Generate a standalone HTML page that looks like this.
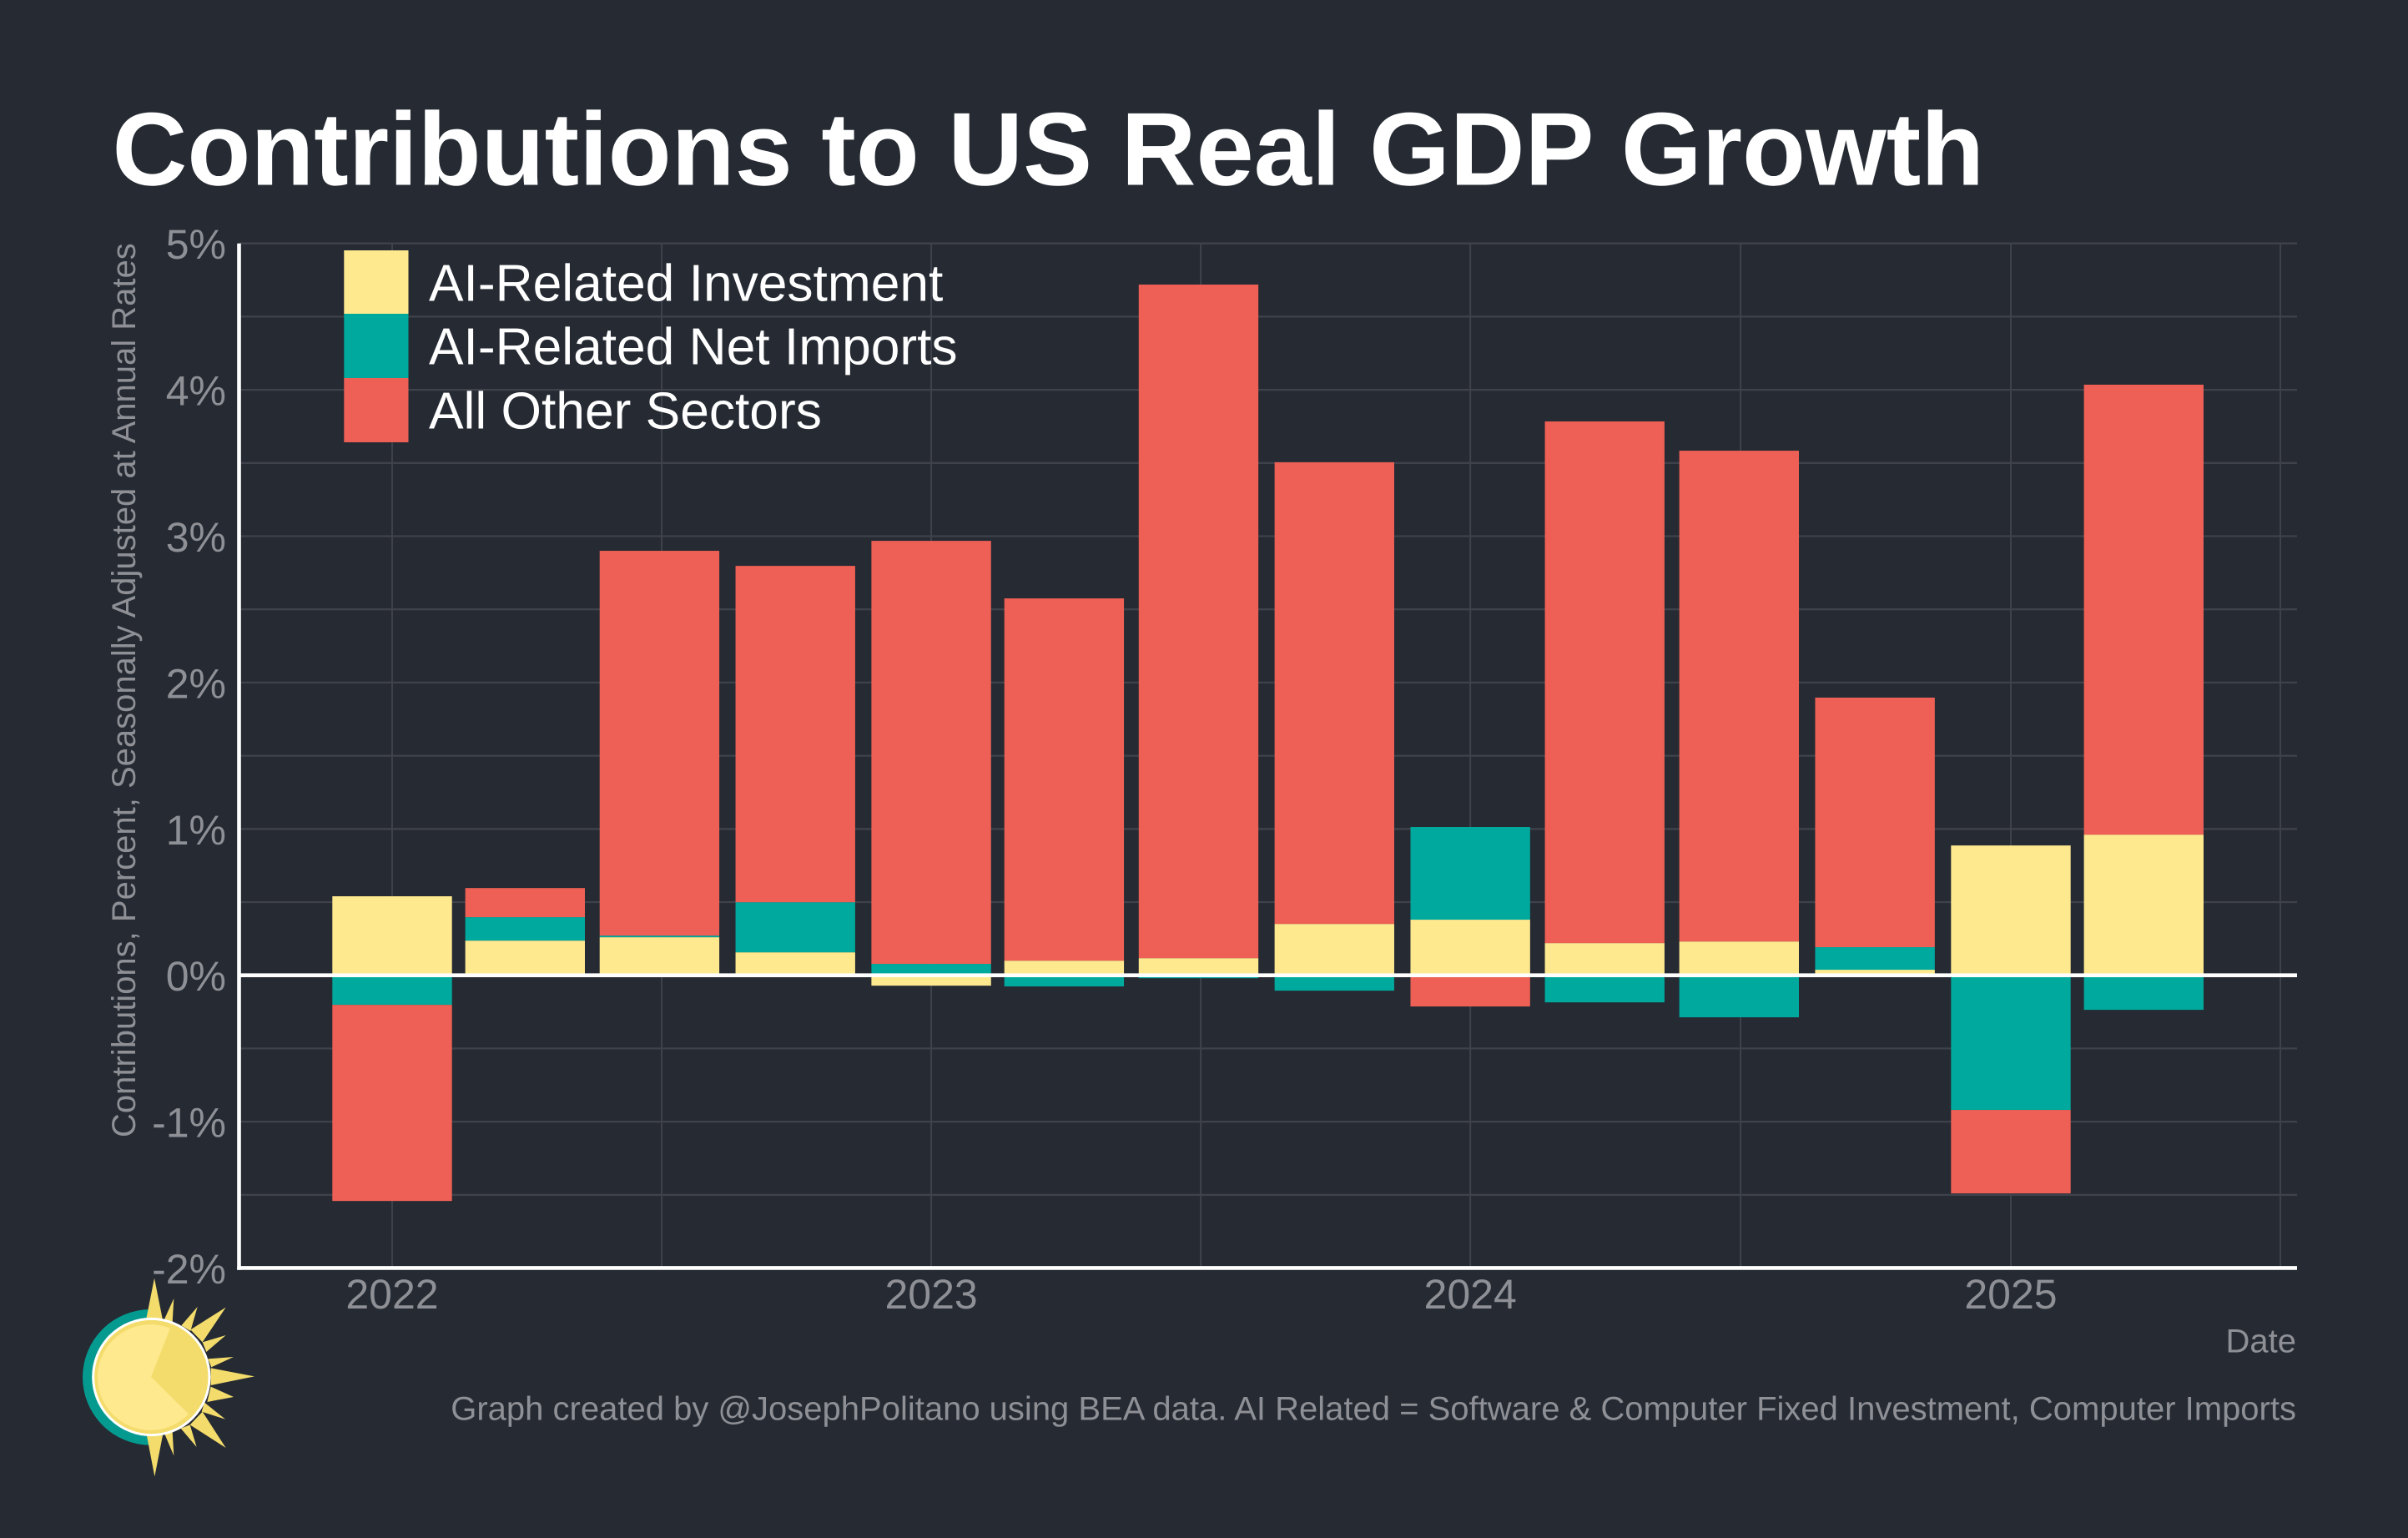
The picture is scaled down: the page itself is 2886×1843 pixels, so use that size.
<!DOCTYPE html>
<html lang="en">
<head>
<meta charset="utf-8">
<title>Contributions to US Real GDP Growth</title>
<style>
html,body{margin:0;padding:0;background:#252a33;width:2886px;height:1843px;overflow:hidden}
svg{display:block}
text{font-family:"Liberation Sans",Arial,sans-serif;text-rendering:geometricPrecision}
</style>
</head>
<body>
<svg id="chart" xmlns="http://www.w3.org/2000/svg" width="2886" height="1843" viewBox="0 0 2886 1843">
  <rect x="0" y="0" width="2886" height="1843" fill="#252a33"/>
  <text x="134.5" y="221.7" font-size="124.4" font-weight="700" fill="#ffffff">Contributions to US Real GDP Growth</text>
  <g id="grid"></g>
  <g id="bars"></g>
  <g id="axes"></g>
  <g id="tick-labels"></g>
  <text transform="translate(162 1363) rotate(-90)" font-size="40" fill="#8e9096">Contributions, Percent, Seasonally Adjusted at Annual Rates</text>
  <text x="2752" y="1620.7" font-size="40" text-anchor="end" fill="#8e9096">Date</text>
  <text x="2752" y="1701.7" font-size="40" text-anchor="end" fill="#8e9096">Graph created by @JosephPolitano using BEA data. AI Related = Software &amp; Computer Fixed Investment, Computer Imports</text>

  <g>
    <rect x="412.3" y="300" width="77.2" height="76" fill="#ffe98f"/>
    <rect x="412.3" y="376" width="77.2" height="77" fill="#00a99d"/>
    <rect x="412.3" y="453" width="77.2" height="77" fill="#ee6055"/>
    <text x="514" y="360.7" font-size="62.3" fill="#ffffff">AI-Related Investment</text>
    <text x="514" y="436.7" font-size="62.3" fill="#ffffff">AI-Related Net Imports</text>
    <text x="514" y="513.3" font-size="62.3" fill="#ffffff">All Other Sectors</text>
  </g>

  <g transform="translate(60 1480) scale(0.33333)">
    <path d="M361 267 A244 244 0 0 0 361 755 Z" fill="#059a8f"/>
    <g fill="#f3dc6b">
      <polygon points="345,305 375,155 405,305"/>
      <polygon points="410,305 445,228 440,315"/>
      <polygon points="472,325 530,258 505,345"/>
      <polygon points="505,340 632,260 548,385"/>
      <polygon points="548,385 632,360 562,420"/>
      <polygon points="568,445 660,438 580,475"/>
      <polygon points="578,478 735,508 578,540"/>
      <polygon points="578,545 660,582 565,600"/>
      <polygon points="555,602 630,662 545,635"/>
      <polygon points="548,635 632,765 503,682"/>
      <polygon points="503,682 527,762 470,695"/>
      <polygon points="412,715 445,793 440,705"/>
      <polygon points="348,722 376,868 405,720"/>
    </g>
    <circle cx="364" cy="510" r="209" fill="#f3dc6b" stroke="#ffffff" stroke-width="9"/>
    <path d="M363 510 L432 335 A190 190 0 1 0 498 643 Z" fill="#ffe98f"/>
  </g>
</svg>
<script>
// Chart data (percentage points)
const quarters = ["2022-01-01","2022-04-01","2022-07-01","2022-10-01","2023-01-01","2023-04-01","2023-07-01","2023-10-01","2024-01-01","2024-04-01","2024-07-01","2024-10-01","2025-01-01","2025-04-01"];
const aiInvestment = [0.54,0.237,0.26,0.157,-0.071,0.10,0.117,0.351,0.38,0.22,0.231,0.038,0.887,0.961];
const aiNetImports = [-0.202,0.16,0.011,0.342,0.078,-0.076,-0.02,-0.105,0.633,-0.185,-0.287,0.154,-0.92,-0.236];
const allOtherSectors = [-1.34,0.199,2.629,2.298,2.89,2.475,4.602,3.154,-0.213,3.564,3.353,1.705,-0.57,3.074];
const yTickValues = [-2,-1,0,1,2,3,4,5];
const yTickLabels = ["-2%","-1%","0%","1%","2%","3%","4%","5%"];
const xTickDates = ["2022-01-01","2023-01-01","2024-01-01","2025-01-01"];
const xTickLabels = ["2022","2023","2024","2025"];

const NS = "http://www.w3.org/2000/svg";
const PANEL = {left:286.5, right:2753, top:291.7, bottom:1519.4};
const X0 = 470, PX_PER_DAY = 1.77007, Y0 = 1168.7, PX_PER_UNIT = 175.4;
const BAR_DAYS = 81;
const GRID = "#3f424b", TICK = "#8e9096";

function dayIndex(s){ return (Date.parse(s + "T00:00:00Z") - Date.UTC(2022,0,1)) / 86400000; }
function xScale(s){ return X0 + dayIndex(s) * PX_PER_DAY; }
function yScale(v){ return Y0 - v * PX_PER_UNIT; }
function make(tag, attrs, parent){
  const el = document.createElementNS(NS, tag);
  for (const k in attrs) el.setAttribute(k, attrs[k]);
  parent.appendChild(el);
  return el;
}

const gridG = document.getElementById("grid");
const barsG = document.getElementById("bars");
const axesG = document.getElementById("axes");
const labelsG = document.getElementById("tick-labels");

// horizontal gridlines: majors plus midpoint minors
yTickValues.forEach(function(v, i){
  const major = make("line", {x1:PANEL.left, x2:PANEL.right, y1:yScale(v), y2:yScale(v), stroke:GRID, "stroke-width":2.3}, gridG);
  
  
  if (i < yTickValues.length - 1) {
    const m = (v + yTickValues[i + 1]) / 2;
    const minor = make("line", {x1:PANEL.left, x2:PANEL.right, y1:yScale(m), y2:yScale(m), stroke:GRID, "stroke-width":2.3}, gridG);
    
    
  }
});

// vertical gridlines: years and midpoints between years
xTickDates.forEach(function(d, i){
  const xp = xScale(d);
  const major = make("line", {x1:xp, x2:xp, y1:PANEL.top, y2:PANEL.bottom, stroke:GRID, "stroke-width":2}, gridG);
  
  
  const nextX = i < xTickDates.length - 1 ? xScale(xTickDates[i + 1]) : xp + 646;
  const mx = (xp + nextX) / 2;
  const minor = make("line", {x1:mx, x2:mx, y1:PANEL.top, y2:PANEL.bottom, stroke:GRID, "stroke-width":2}, gridG);
  
  
});

// stacked bars: investment nearest zero, then net imports, then other sectors
quarters.forEach(function(q, i){
  const parts = [
    {v:aiInvestment[i], c:"#ffe98f", n:"bar-ai-investment"},
    {v:aiNetImports[i], c:"#00a99d", n:"bar-ai-net-imports"},
    {v:allOtherSectors[i], c:"#ee6055", n:"bar-all-other-sectors"}
  ];
  const w = BAR_DAYS * PX_PER_DAY;
  const left = xScale(q) - w / 2;
  let pos = 0, neg = 0;
  parts.forEach(function(p){
    let a, b;
    if (p.v >= 0) { a = pos; b = pos + p.v; pos = b; }
    else { a = neg; b = neg + p.v; neg = b; }
    const top = yScale(Math.max(a, b));
    const h = Math.abs(yScale(a) - yScale(b));
    const r = make("rect", {x:left, y:top, width:w, height:h, fill:p.c}, barsG);
    
    
  });
});

// zero line and axis lines
const zero = make("line", {x1:PANEL.left, x2:PANEL.right, y1:yScale(0), y2:yScale(0), stroke:"#ffffff", "stroke-width":4.6}, axesG);


const yAxis = make("line", {x1:PANEL.left, x2:PANEL.left, y1:PANEL.top, y2:PANEL.bottom + 2.3, stroke:"#ffffff", "stroke-width":4.6}, axesG);


const xAxis = make("line", {x1:PANEL.left - 2.3, x2:PANEL.right, y1:PANEL.bottom, y2:PANEL.bottom, stroke:"#ffffff", "stroke-width":4.6}, axesG);



// tick labels
yTickValues.forEach(function(v, i){
  const t = make("text", {x:271, y:yScale(v) + 18.5, "font-size":50, "text-anchor":"end", fill:TICK}, labelsG);
  t.textContent = yTickLabels[i];
  
  
});
xTickDates.forEach(function(d, i){
  const t = make("text", {x:xScale(d), y:1568, "font-size":50, "text-anchor":"middle", fill:TICK}, labelsG);
  t.textContent = xTickLabels[i];
  
  
});
</script>
</body>
</html>
